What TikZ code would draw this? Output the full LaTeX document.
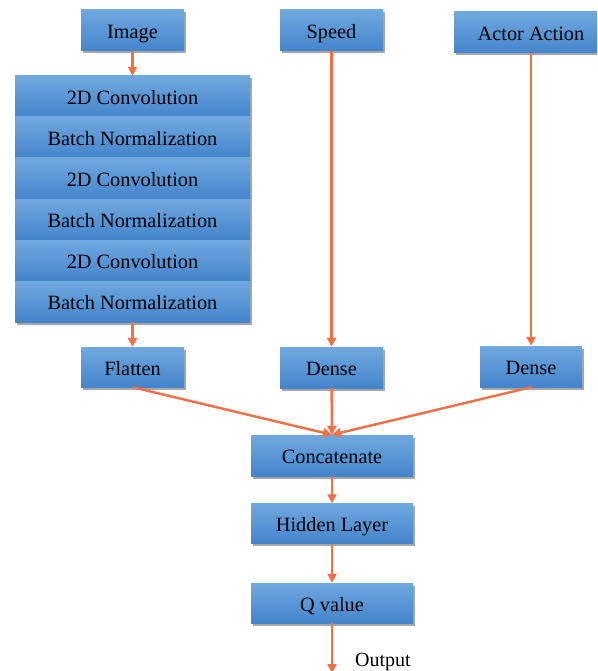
\documentclass[tikz,border=0pt]{standalone}
\usepackage{fontspec}
\setmainfont{Liberation Serif}
\usetikzlibrary{arrows.meta,shadows}
\definecolor{arr}{RGB}{244,110,68}
\definecolor{btop}{RGB}{112,168,224}
\definecolor{bbot}{RGB}{68,132,203}
\tikzset{
  x=1pt,y=-1pt,
  blk/.style={rectangle, inner sep=0pt, top color=btop, bottom color=bbot, draw=none,
    drop shadow={shadow xshift=2pt, shadow yshift=-2.5pt, opacity=0.35, fill=black},
    font=\fontsize{20.3}{24}\selectfont, text=black, text height=17pt, text depth=1pt},
  small/.style={blk, minimum width=103pt, minimum height=41pt},
  wide/.style={blk, minimum width=162pt, minimum height=41pt},
  row/.style={blk, minimum width=235pt, minimum height=41pt},
  con/.style={draw=arr, line width=2.4pt, -{Triangle[length=9pt,width=9pt]}},
}
\begin{document}
\begin{tikzpicture}
\useasboundingbox (0,0) rectangle (597,671);
\clip (0,0) rectangle (597,671);
\node[small] (img) at (132.5,30.5) {Image};
\node[small] (speed) at (331.5,30.5) {Speed};
\node[blk, minimum width=154pt, minimum height=41pt] (actor) at (531,32.5) {Actor Action};
\node[row] (c1) at (132.5,96.5) {2D Convolution};
\node[row] (b1) at (132.5,137.5) {Batch Normalization};
\node[row] (c2) at (132.5,178.5) {2D Convolution};
\node[row] (b2) at (132.5,219.5) {Batch Normalization};
\node[row] (c3) at (132.5,260.5) {2D Convolution};
\node[row] (b3) at (132.5,301.5) {Batch Normalization};
\node[small, minimum height=40pt] (flat) at (132.5,367) {Flatten};
\node[small] (dense1) at (331.5,367.5) {Dense};
\node[small, minimum width=102pt] (dense2) at (531,366.5) {Dense};
\node[wide] (concat) at (332,455.5) {Concatenate};
\node[wide, minimum height=40pt] (hidden) at (332,523.5) {Hidden Layer};
\node[wide, minimum height=40pt] (qv) at (332,603) {Q value};
\coordinate (out) at (332,673);
\node[anchor=base west, font=\fontsize{20}{24}\selectfont, inner sep=0pt] (outlbl) at (355,666) {Output};
\draw[con] (img) -- (c1);
\draw[con] (b3) -- (flat);
\draw[con] (speed) -- (dense1);
\draw[con] (actor) -- (dense2);
\draw[con] (flat.south) -- (concat.north);
\draw[con] (dense1) -- (concat);
\draw[con] (dense2.south) -- (concat.north);
\draw[con] (concat) -- (hidden);
\draw[con] (hidden) -- (qv);
\draw[con] (qv) -- (out);
\end{tikzpicture}
\end{document}
